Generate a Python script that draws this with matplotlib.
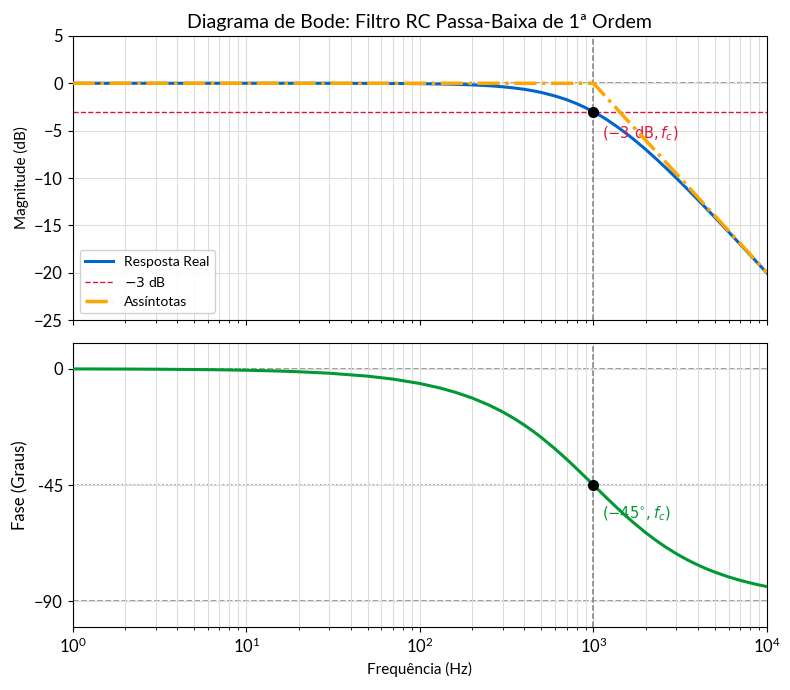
import matplotlib
matplotlib.use("Agg")
import matplotlib.pyplot as plt

plt.rcParams['font.family'] = ['Lato', 'DejaVu Sans']

freq = [1, 2, 3, 5, 7, 10, 15, 20, 30, 50, 70, 100, 130, 160, 200, 250, 300, 350,
        400, 450, 500, 600, 700, 800, 900, 1000, 1100, 1200, 1350, 1500, 1700, 2000,
        2300, 2600, 3000, 3500, 4000, 4500, 5000, 6000, 7000, 8000, 9000, 10000]
mag_db = [0.0, 0.0, 0.0, 0.0, 0.0, 0.0, 0.0, 0.0, -0.004, -0.011, -0.021, -0.043,
          -0.073, -0.11, -0.17, -0.26, -0.37, -0.50, -0.64, -0.80, -0.97, -1.34,
          -1.73, -2.15, -2.58, -3.01, -3.44, -3.87, -4.51, -5.12, -5.90, -6.99,
          -7.99, -8.90, -10.0, -11.22, -12.30, -13.27, -14.15, -15.68, -16.99,
          -18.13, -19.14, -20.04]
phase_deg = [-0.06, -0.11, -0.17, -0.29, -0.40, -0.57, -0.86, -1.15, -1.72, -2.86,
             -4.0, -5.71, -7.41, -9.09, -11.31, -14.04, -16.70, -19.29, -21.80,
             -24.23, -26.57, -30.96, -34.99, -38.66, -41.99, -45.0, -47.73, -50.19,
             -53.47, -56.31, -59.53, -63.43, -66.50, -68.96, -71.57, -74.05, -75.96,
             -77.47, -78.69, -80.54, -81.87, -82.87, -83.66, -84.29]
asym_f = [1, 1000, 10000]
asym_db = [0, 0, -20]
fc = 1000
mag_ticks = [5, 0, -5, -10, -15, -20, -25]
phase_ticks = [0, -45, -90]
phase_ticklabels = ['0', '-45', '\u221290']

fig, (ax1, ax2) = plt.subplots(2, 1, figsize=(7.9, 6.9), dpi=100, sharex=True)
fig.subplots_adjust(left=0.092, right=0.971, top=0.948, bottom=0.091, hspace=0.08)

# Magnitude
ax1.semilogx(freq, mag_db, color='#0066CC', lw=2.2, label='Resposta Real', zorder=3)
ax1.axhline(-3, color='crimson', ls='--', lw=1, label='$-3$ dB', zorder=2)
ax1.semilogx(asym_f, asym_db, color='orange', ls='-.', lw=2.5, label='Assíntotas', zorder=4)
ax1.axvline(fc, color='gray', ls='--', lw=1.1, zorder=2)
ax1.axhline(0, color='gray', ls='--', lw=1.1, zorder=1)
ax1.plot([fc], [-3], 'o', color='black', ms=7, zorder=5)
ax1.text(1120, -5.3, r'$(-3\ \mathrm{dB}, f_c)$', color='crimson', fontsize=10.5,
         va='center', ha='left')
ax1.set_ylim(-25, 5)
ax1.set_yticks(mag_ticks)
ax1.set_ylabel('Magnitude (dB)', fontsize=11)
ax1.set_title('Diagrama de Bode: Filtro RC Passa-Baixa de 1ª Ordem', fontsize=14)
ax1.grid(True, which='both', color='#dddddd', lw=0.8)
ax1.legend(loc='lower left', fontsize=10, framealpha=0.9)
ax1.tick_params(labelsize=12)

# Phase
ax2.semilogx(freq, phase_deg, color='#009933', lw=2.2, zorder=3)
ax2.axvline(fc, color='gray', ls='--', lw=1.1, zorder=2)
ax2.axhline(0, color='gray', ls='--', lw=1.1, zorder=1)
ax2.axhline(-90, color='gray', ls='--', lw=1.1, zorder=1)
ax2.axhline(-45, color='gray', ls=':', lw=1.1, zorder=1)
ax2.plot([fc], [-45], 'o', color='black', ms=7, zorder=5)
ax2.text(1120, -56, r'$(-45^{\circ}, f_c)$', color='#009933', fontsize=10.5,
         va='center', ha='left')
ax2.set_ylim(-100, 10)
ax2.set_yticks(phase_ticks)
ax2.set_yticklabels(phase_ticklabels)
ax2.set_ylabel('Fase (Graus)', fontsize=12)
ax2.set_xlabel('Frequência (Hz)', fontsize=11)
ax2.set_xlim(1, 10000)
ax2.grid(True, which='both', color='#dddddd', lw=0.8)
ax2.tick_params(labelsize=12)

fig.savefig('out.png', dpi=100)
